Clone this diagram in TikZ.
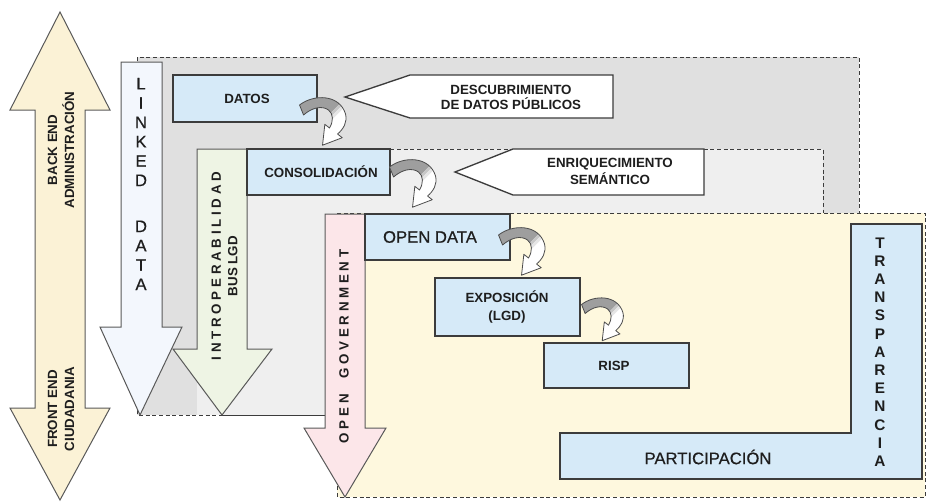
\documentclass[tikz,border=0pt]{standalone}
\usepackage{fontspec}
\setmainfont{Liberation Sans}
\newfontfamily\semib[FakeBold=0.6]{Liberation Sans}
\usetikzlibrary{calc}
\definecolor{regA}{HTML}{E0E0E0}
\definecolor{regB}{HTML}{EFEFEF}
\definecolor{regC}{HTML}{FEF8DE}
\definecolor{bigy}{HTML}{FBF2D6}
\definecolor{ldc}{HTML}{F3F7FD}
\definecolor{grc}{HTML}{EEF4E4}
\definecolor{pkc}{HTML}{FCE6E9}
\definecolor{bluec}{HTML}{D6EAF8}
\definecolor{edgec}{HTML}{3C3C3C}
\definecolor{txtc}{HTML}{1E1E1E}
\def\curvshape{(0,-5) .. controls (14,-16) and (40,-16) .. (46,4)
      .. controls (48,12) and (44,19) .. (38,24)
      -- (42.7,27.7) -- (23,35.2) -- (25.3,14.3) -- (30,18)
      .. controls (34,11) and (34,4) .. (29,0)
      .. controls (22,-5) and (12,-2) .. (4,5) -- cycle}
\begin{document}
\begin{tikzpicture}[x=0.75pt,y=-0.75pt,
  region/.style={draw=edgec, line width=0.7pt, dash pattern=on 3pt off 2pt},
  bigarrow/.style={draw=edgec!85, line width=0.75pt, line join=miter},
  bluebox/.style={draw=edgec, line width=0.8pt, fill=bluec, rectangle, inner sep=0pt},
  callout/.style={draw=edgec, line width=1pt, fill=white, line join=miter},
  bt/.style={text=txtc, font=\bfseries\fontsize{10}{12}\selectfont, align=center, inner sep=0pt},
  rt/.style={text=txtc, font=\semib\fontsize{12.5}{15}\selectfont, align=center, inner sep=0pt},
  curv/.pic={
    \fill[white] \curvshape;
    \begin{scope}
      \clip \curvshape;
      \fill[black!38] (-10,-25) -- (59,-25) -- (-10,44) -- cycle;
      \fill[black!22] (59,-25) -- (63,-25) -- (-10,48) -- (-10,44) -- cycle;
      \fill[black!10] (63,-25) -- (67,-25) -- (-10,52) -- (-10,48) -- cycle;
    \end{scope}
    \draw[black!70, line width=0.6pt, line join=round] \curvshape;
  }
]
\useasboundingbox (0,0) rectangle (928,501);
% regions
\fill[regA] (137,57) rectangle (859,415);
\draw[region] (137,57) rectangle (859,415);
\fill[regB] (197,149) rectangle (823,415);
\draw[region] (197,149) -- (823,149) -- (823,415);
\draw[edgec, line width=0.7pt] (222,415) -- (823,415);
\fill[regC] (337,213) rectangle (925,497);
\draw[region] (337,213) rectangle (925,497);
% big double arrow
\draw[bigarrow, fill=bigy] (60,12) -- (110,110) -- (85,110) -- (85,408) -- (110,408) -- (60,500)
  -- (10,408) -- (35,408) -- (35,110) -- (10,110) -- cycle;
\node[bt, rotate=90, font=\bfseries\fontsize{10}{12.75}\selectfont] (back) at (61,150) {BACK END\\ADMINISTRACIÓN};
\node[bt, rotate=90, font=\bfseries\fontsize{10}{12.75}\selectfont] (front) at (61,409) {FRONT END\\CIUDADANIA};
% linked data arrow
\draw[bigarrow, fill=ldc] (121,62) -- (162,62) -- (162,327) -- (182,327) -- (140,415) -- (100,327) -- (121,327) -- cycle;
\node[rt, font=\semib\fontsize{12.5}{14.5}\selectfont] (ld) at (141,184) {L\\I\\N\\K\\E\\D\\[20pt]D\\A\\T\\A};
% interoperability arrow
\draw[bigarrow, fill=grc] (197,149) -- (247,149) -- (247,349) -- (272,349) -- (222,415) -- (173,349) -- (197,349) -- cycle;
\node[bt, rotate=90, font=\bfseries\fontsize{10}{12.4}\selectfont] (interop) at (224.5,266) {I N T R O P E R A B I L I D A D\\BUS LGD};
% open government arrow
\draw[bigarrow, fill=pkc] (325,214) -- (365,214) -- (365,428) -- (386,428) -- (345,497) -- (304,428) -- (325,428) -- cycle;
\node[bt, rotate=90] (opengov) at (344,346.5) {O P E N\hspace{0.9em} G O V E R N M E N T};
% blue boxes
\node[bluebox, minimum width=144*0.75pt, minimum height=47*0.75pt] (datos) at (245,98.5) {};
\node[bt] (datostxt) at (247,98.5) {DATOS};
\node[bluebox, minimum width=143*0.75pt, minimum height=46*0.75pt] (consol) at (318.5,172) {};
\node[bt] (consoltxt) at (321,172) {CONSOLIDACIÓN};
\node[bluebox, minimum width=145*0.75pt, minimum height=46*0.75pt] (opendata) at (437.5,237) {};
\node[rt] (odtxt) at (430,237) {OPEN DATA};
\node[bluebox, minimum width=145*0.75pt, minimum height=58*0.75pt] (expos) at (507.5,307) {};
\node[bt, font=\bfseries\fontsize{10}{13.5}\selectfont] (expostxt) at (507,307) {EXPOSICIÓN\\(LGD)};
\node[bluebox, minimum width=145*0.75pt, minimum height=45*0.75pt] (risp) at (616.5,365.5) {};
\node[bt] (risptxt) at (614,365.5) {RISP};
% transparencia / participacion
\draw[bluebox] (560,433) -- (851,433) -- (851,224) -- (922,224) -- (922,479) -- (560,479) -- cycle;
\node[bt, font=\bfseries\fontsize{11.5}{13.65}\selectfont] (transp) at (880,352) {T\\R\\A\\N\\S\\P\\A\\R\\E\\N\\C\\I\\A};
\node[rt] (partic) at (708,457) {PARTICIPACIÓN};
% callouts
\draw[callout] (345,97) -- (410,75) -- (613,75) -- (613,118) -- (410,118) -- cycle;
\node[bt, font=\bfseries\fontsize{10}{11.25}\selectfont] (desc) at (511,97.5) {DESCUBRIMIENTO\\DE DATOS PÚBLICOS};
\draw[callout] (455,172) -- (513,149) -- (704,149) -- (704,195) -- (513,195) -- cycle;
\node[bt, font=\bfseries\fontsize{10}{12.75}\selectfont] (enri) at (610,171.5) {ENRIQUECIMIENTO\\SEMÁNTICO};
% curved arrows
\pic at ($(datos.east)+(-18,11.5)$) {curv};
\pic at ($(consol.east)+(-1,0)$) {curv};
\pic at ($(opendata.east)+(-12,3)$) {curv};
\pic[scale=0.9] at ($(expos.east)+(1,2)$) {curv};
\end{tikzpicture}
\end{document}
